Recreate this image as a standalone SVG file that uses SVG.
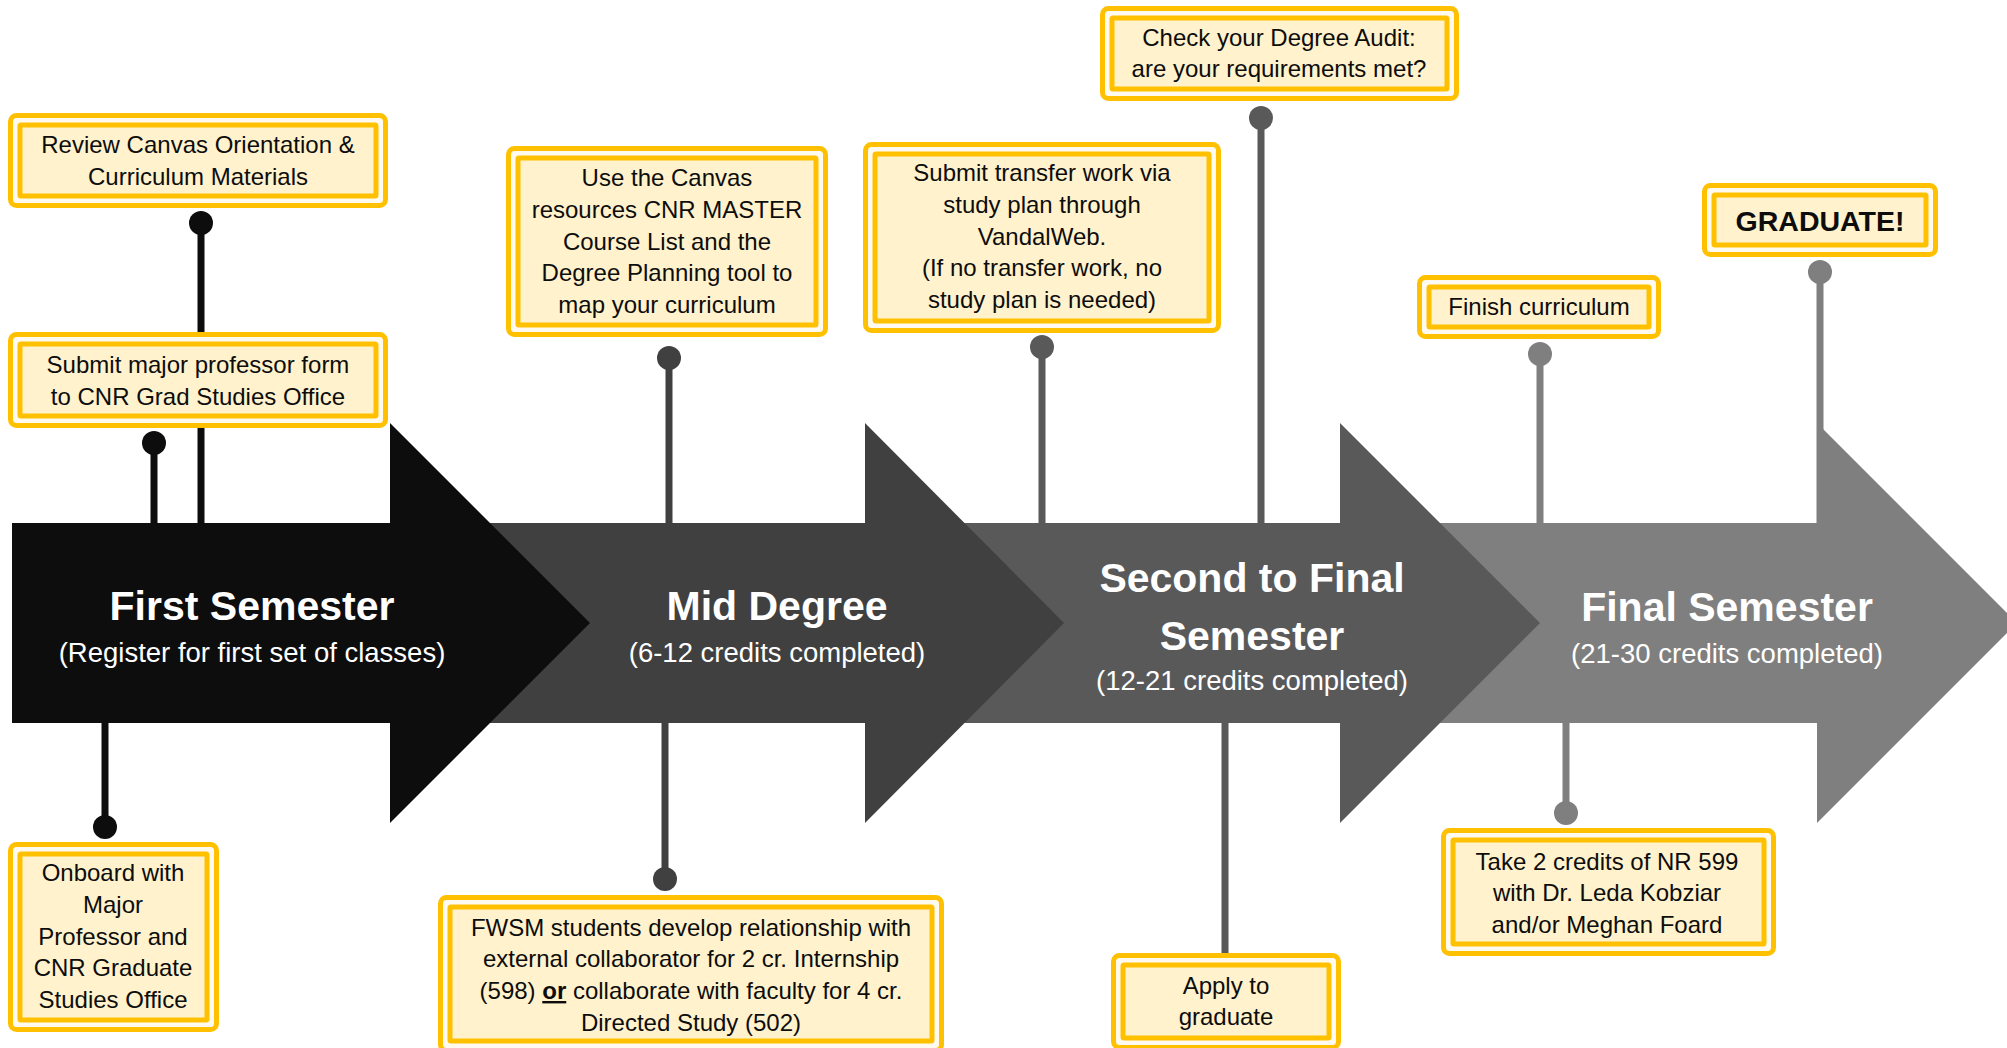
<svg xmlns="http://www.w3.org/2000/svg" width="2007" height="1048" viewBox="0 0 2007 1048">
<style>
.bo{fill:#fffaf0;stroke:#ffc000;stroke-width:5}
.bi{fill:#fff2cc;stroke:#ffc000;stroke-width:5}
.t{font-family:"Liberation Sans",Arial,sans-serif;font-size:24px;fill:#0d0d0d;text-anchor:middle}
.tb{font-family:"Liberation Sans",Arial,sans-serif;font-size:28.5px;font-weight:bold;fill:#0d0d0d;text-anchor:middle}
.tt{font-family:"Liberation Sans",Arial,sans-serif;font-size:41px;font-weight:bold;fill:#ffffff;text-anchor:middle}
.st{font-family:"Liberation Sans",Arial,sans-serif;font-size:27.5px;fill:#ffffff;text-anchor:middle}
.ln{stroke-width:7;fill:none}
.k1{stroke:#0d0d0d}.f1{fill:#0d0d0d}
.k2{stroke:#404040}.f2{fill:#404040}
.k3{stroke:#595959}.f3{fill:#595959}
.k4{stroke:#7f7f7f}.f4{fill:#7f7f7f}
</style>
<rect width="2007" height="1048" fill="#ffffff"/>
<g id="connectors">
  <line class="ln k1" x1="201" y1="223" x2="201" y2="526"/><circle class="f1" cx="201" cy="223" r="12"/>
  <line class="ln k1" x1="154" y1="443" x2="154" y2="526"/><circle class="f1" cx="154" cy="443" r="12"/>
  <line class="ln k1" x1="105" y1="720" x2="105" y2="827"/><circle class="f1" cx="105" cy="827" r="12"/>
  <line class="ln k2" x1="669" y1="358" x2="669" y2="526"/><circle class="f2" cx="669" cy="358" r="12"/>
  <line class="ln k2" x1="665" y1="720" x2="665" y2="879"/><circle class="f2" cx="665" cy="879" r="12"/>
  <line class="ln k3" x1="1261" y1="118" x2="1261" y2="526"/><circle class="f3" cx="1261" cy="118" r="12"/>
  <line class="ln k3" x1="1042" y1="347" x2="1042" y2="526"/><circle class="f3" cx="1042" cy="347" r="12"/>
  <line class="ln k3" x1="1225" y1="720" x2="1225" y2="962"/>
  <line class="ln k4" x1="1540" y1="354" x2="1540" y2="526"/><circle class="f4" cx="1540" cy="354" r="12"/>
  <line class="ln k4" x1="1820" y1="272" x2="1820" y2="530"/><circle class="f4" cx="1820" cy="272" r="12"/>
  <line class="ln k4" x1="1566" y1="720" x2="1566" y2="813"/><circle class="f4" cx="1566" cy="813" r="12"/>
</g>
<g id="stage-final">
  <polygon class="f4" points="1300,523 1817,523 1817,423 2017,623 1817,823 1817,723 1300,723"/>
  <text class="tt" x="1727" y="621">Final Semester</text>
  <text class="st" x="1727" y="663">(21-30 credits completed)</text>
</g>
<g id="stage-second">
  <polygon class="f3" points="900,523 1340,523 1340,423 1540,623 1340,823 1340,723 900,723"/>
  <text class="tt" x="1252" y="592">Second to Final</text>
  <text class="tt" x="1252" y="650">Semester</text>
  <text class="st" x="1252" y="690">(12-21 credits completed)</text>
</g>
<g id="stage-mid">
  <polygon class="f2" points="400,523 865,523 865,423 1064,623 865,823 865,723 400,723"/>
  <text class="tt" x="777" y="620">Mid Degree</text>
  <text class="st" x="777" y="662">(6-12 credits completed)</text>
</g>
<g id="stage-first">
  <polygon class="f1" points="12,523 390,523 390,423 590,623 390,823 390,723 12,723"/>
  <text class="tt" x="252" y="620">First Semester</text>
  <text class="st" x="252" y="662">(Register for first set of classes)</text>
</g>
<g id="box-review">
  <rect class="bo" x="10.5" y="115.5" width="375" height="90" rx="6"/>
  <rect class="bi" x="20" y="125" width="356" height="71" rx="1"/>
  <text class="t" x="198" y="153">Review Canvas Orientation &amp;</text>
  <text class="t" x="198" y="185">Curriculum Materials</text>
</g>
<g id="box-submit-form">
  <rect class="bo" x="10.5" y="334.5" width="375" height="91" rx="6"/>
  <rect class="bi" x="20" y="344" width="356" height="72" rx="1"/>
  <text class="t" x="198" y="373">Submit major professor form</text>
  <text class="t" x="198" y="405">to CNR Grad Studies Office</text>
</g>
<g id="box-onboard">
  <rect class="bo" x="10.5" y="844.5" width="206" height="185" rx="6"/>
  <rect class="bi" x="20" y="854" width="187" height="166" rx="1"/>
  <text class="t" x="113" y="881">Onboard with</text>
  <text class="t" x="113" y="913">Major</text>
  <text class="t" x="113" y="945">Professor and</text>
  <text class="t" x="113" y="976">CNR Graduate</text>
  <text class="t" x="113" y="1008">Studies Office</text>
</g>
<g id="box-canvas">
  <rect class="bo" x="508.5" y="148.5" width="317" height="186" rx="6"/>
  <rect class="bi" x="518" y="158" width="298" height="167" rx="1"/>
  <text class="t" x="667" y="186">Use the Canvas</text>
  <text class="t" x="667" y="218">resources CNR MASTER</text>
  <text class="t" x="667" y="250">Course List and the</text>
  <text class="t" x="667" y="281">Degree Planning tool to</text>
  <text class="t" x="667" y="313">map your curriculum</text>
</g>
<g id="box-fwsm">
  <rect class="bo" x="440.5" y="897.5" width="501" height="153" rx="6"/>
  <rect class="bi" x="450" y="907" width="482" height="134" rx="1"/>
  <text class="t" x="691" y="936">FWSM students develop relationship with</text>
  <text class="t" x="691" y="967">external collaborator for 2 cr. Internship</text>
  <text class="t" x="691" y="999">(598) <tspan font-weight="bold" text-decoration="underline">or</tspan> collaborate with faculty for 4 cr.</text>
  <text class="t" x="691" y="1031">Directed Study (502)</text>
</g>
<g id="box-transfer">
  <rect class="bo" x="865.5" y="144.5" width="353" height="186" rx="6"/>
  <rect class="bi" x="875" y="154" width="334" height="167" rx="1"/>
  <text class="t" x="1042" y="181">Submit transfer work via</text>
  <text class="t" x="1042" y="213">study plan through</text>
  <text class="t" x="1042" y="245">VandalWeb.</text>
  <text class="t" x="1042" y="276">(If no transfer work, no</text>
  <text class="t" x="1042" y="308">study plan is needed)</text>
</g>
<g id="box-audit">
  <rect class="bo" x="1102.5" y="8.5" width="354" height="90" rx="6"/>
  <rect class="bi" x="1112" y="18" width="335" height="71" rx="1"/>
  <text class="t" x="1279" y="46">Check your Degree Audit:</text>
  <text class="t" x="1279" y="77">are your requirements met?</text>
</g>
<g id="box-apply">
  <rect class="bo" x="1113.5" y="955.5" width="225" height="92" rx="6"/>
  <rect class="bi" x="1123" y="965" width="206" height="73" rx="1"/>
  <text class="t" x="1226" y="994">Apply to</text>
  <text class="t" x="1226" y="1025">graduate</text>
</g>
<g id="box-finish">
  <rect class="bo" x="1419.5" y="277.5" width="239" height="59" rx="6"/>
  <rect class="bi" x="1429" y="287" width="220" height="40" rx="1"/>
  <text class="t" x="1539" y="315">Finish curriculum</text>
</g>
<g id="box-graduate">
  <rect class="bo" x="1704.5" y="185.5" width="231" height="69" rx="6"/>
  <rect class="bi" x="1714" y="195" width="212" height="50" rx="1"/>
  <text class="tb" x="1820" y="231">GRADUATE!</text>
</g>
<g id="box-nr599">
  <rect class="bo" x="1443.5" y="830.5" width="330" height="123" rx="6"/>
  <rect class="bi" x="1453" y="840" width="311" height="104" rx="1"/>
  <text class="t" x="1607" y="870">Take 2 credits of NR 599</text>
  <text class="t" x="1607" y="901">with Dr. Leda Kobziar</text>
  <text class="t" x="1607" y="933">and/or Meghan Foard</text>
</g>
</svg>
